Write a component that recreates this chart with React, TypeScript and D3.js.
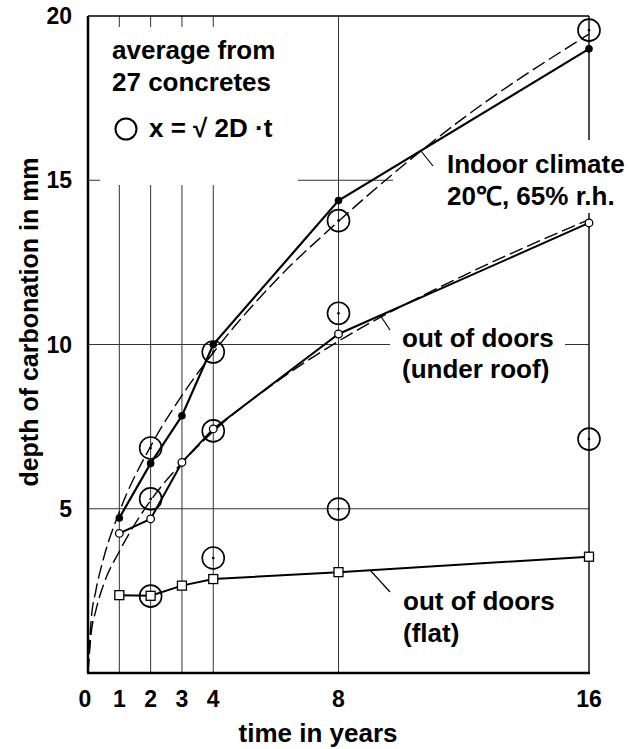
import React from 'react';
import * as d3 from 'd3';

// ---- data ----
const years = [1, 2, 3, 4, 8, 16];
const indoor = [4.72, 6.38, 7.83, 10.0, 14.38, 19.0];
const underRoof = [4.25, 4.69, 6.41, 7.43, 10.32, 13.7];
const flat = [2.37, 2.35, 2.66, 2.86, 3.07, 3.54];

const fitYearsIndoor = [2, 4, 8, 16];
const indoorFit = [6.85, 9.77, 13.77, 19.57];
const fitYearsRoof = [2, 4, 8];
const roofFit = [5.3, 7.37, 10.95];
const fitYearsFlat = [2, 4, 8, 16];
const flatFit = [2.34, 3.5, 4.99, 7.12];

const curveT = [0, 0.1, 0.25, 0.5, 1, 2, 3, 4, 6, 8, 12, 16];
const indoorCurve = [0, 1.6, 2.5, 3.5, 4.9, 6.9, 8.45, 9.75, 11.95, 13.75, 16.9, 19.45];
const roofCurve = [0, 1.2, 1.9, 2.7, 3.7, 5.25, 6.4, 7.35, 8.85, 10.1, 12.1, 13.8];

const xTicks = [0, 1, 2, 3, 4, 8, 16];
const xGrid = [1, 2, 3, 4, 8];
const yTicks = [5, 10, 15, 20];
const yGrid = [5, 10, 15];

const FONT = '"Liberation Sans", Arial, Helvetica, sans-serif';

export default function App() {
  const W = 629, H = 749;
  const x = d3.scaleLinear().domain([0, 16]).range([88, 589]);
  const y = d3.scaleLinear().domain([0, 20]).range([673, 16]);

  const solid = d3.line<number>().x((_, i) => x(years[i])).y(d => y(d));
  const fit = (ts: number[]) =>
    d3.line<number>().x((_, i) => x(ts[i])).y(d => y(d)).curve(d3.curveMonotoneX);

  const txt = (s: string, tx: number, ty: number, size = 26, anchor = 'start') => (
    <text x={tx} y={ty} fontSize={size} fontWeight="bold" fontFamily={FONT} textAnchor={anchor} fill="#000">{s}</text>
  );

  return (
    <svg width={W} height={H} style={{ position: 'absolute', left: 0, top: 0, background: '#fff' }}>
      <rect x={0} y={0} width={W} height={H} fill="#fff" />
      {/* grid */}
      {xGrid.map(t => (
        <line key={'vx' + t} x1={x(t)} x2={x(t)} y1={y(0)} y2={y(20)} stroke="#333" strokeWidth={1} />
      ))}
      {yGrid.map(v => (
        <line key={'hy' + v} x1={x(0)} x2={x(16)} y1={y(v)} y2={y(v)} stroke="#333" strokeWidth={1} />
      ))}
      {/* white boxes behind labels */}
      <rect x={100} y={27} width={198} height={158} fill="#fff" />
      <rect x={393} y={140} width={236} height={73} fill="#fff" />
      <rect x={390} y={322} width={175} height={68} fill="#fff" />
      {/* frame */}
      <line x1={x(0)} x2={x(16)} y1={y(20)} y2={y(20)} stroke="#000" strokeWidth={1.6} />
      <line x1={x(16)} x2={x(16)} y1={y(20)} y2={140} stroke="#000" strokeWidth={1.4} />
      <line x1={x(16)} x2={x(16)} y1={213} y2={y(0)} stroke="#000" strokeWidth={1.4} />
      <line x1={x(0)} x2={x(0)} y1={y(0)} y2={y(20)} stroke="#000" strokeWidth={2.5} />
      <line x1={x(0) - 1} x2={x(16) + 1} y1={y(0)} y2={y(0)} stroke="#000" strokeWidth={2.5} />

      {/* fitted sqrt curves (dashed) */}
      <path d={fit(curveT)(indoorCurve) || ''} fill="none" stroke="#000" strokeWidth={1.4} strokeDasharray="14,5" />
      <path d={fit(curveT)(roofCurve) || ''} fill="none" stroke="#000" strokeWidth={1.4} strokeDasharray="14,5" />

      {/* measured lines */}
      <path d={solid(indoor) || ''} fill="none" stroke="#000" strokeWidth={2.2} />
      <path d={solid(underRoof) || ''} fill="none" stroke="#000" strokeWidth={2} />
      <path d={solid(flat) || ''} fill="none" stroke="#000" strokeWidth={2} />

      {/* big circles x = sqrt(2D t) */}
      {[
        [fitYearsIndoor, indoorFit],
        [fitYearsRoof, roofFit],
        [fitYearsFlat, flatFit],
      ].map(([ts, vs], k) =>
        (vs as number[]).map((v, i) => (
          <g key={'bc' + k + '-' + i}>
            <circle cx={x((ts as number[])[i])} cy={y(v)} r={11} fill="none" stroke="#000" strokeWidth={1.6} />
            <circle cx={x((ts as number[])[i])} cy={y(v)} r={1.3} fill="#000" />
          </g>
        ))
      )}

      {/* markers */}
      {indoor.map((v, i) => (
        <circle key={'in' + i} cx={x(years[i])} cy={y(v)} r={3.8} fill="#000" />
      ))}
      {underRoof.map((v, i) => (
        <circle key={'ur' + i} cx={x(years[i])} cy={y(v)} r={3.8} fill="#fff" stroke="#000" strokeWidth={1.3} />
      ))}
      {flat.map((v, i) => (
        <rect key={'fl' + i} x={x(years[i]) - 4.5} y={y(v) - 4.5} width={9} height={9} fill="#fff" stroke="#000" strokeWidth={1.3} />
      ))}

      {/* leader lines */}
      <line x1={433} y1={166} x2={421} y2={151} stroke="#000" strokeWidth={1.2} />
      <line x1={390} y1={330} x2={380} y2={315} stroke="#000" strokeWidth={1.2} />
      <line x1={390} y1={592} x2={370} y2={570} stroke="#000" strokeWidth={1.2} />

      {/* legend */}
      {txt('average from', 112, 59)}
      {txt('27 concretes', 112, 91)}
      <circle cx={126} cy={129} r={10.5} fill="none" stroke="#000" strokeWidth={2} />
      {txt('x = \u221A 2D \u00B7t', 149, 137)}

      {/* series labels */}
      {txt('Indoor climate', 447, 173)}
      {txt('20\u2103, 65% r.h.', 447, 205)}
      {txt('out of doors', 402, 347)}
      {txt('(under roof)', 402, 378)}
      {txt('out of doors', 403, 610)}
      {txt('(flat)', 403, 642)}

      {/* ticks */}
      {xTicks.map(t => (
        <g key={'xt' + t}>{txt(String(t), x(t) - (t === 0 ? 3 : 0), 707, 23, 'middle')}</g>
      ))}
      {yTicks.map(v => (
        <g key={'yt' + v}>{txt(String(v), 72, y(v) + 8, 23, 'end')}</g>
      ))}

      {/* axis titles */}
      {txt('time in years', 318, 742, 26, 'middle')}
      <text transform={`translate(38, ${322}) rotate(-90)`} fontSize={25} fontWeight="bold" fontFamily={FONT} textAnchor="middle">depth of carbonation in mm</text>
    </svg>
  );
}
